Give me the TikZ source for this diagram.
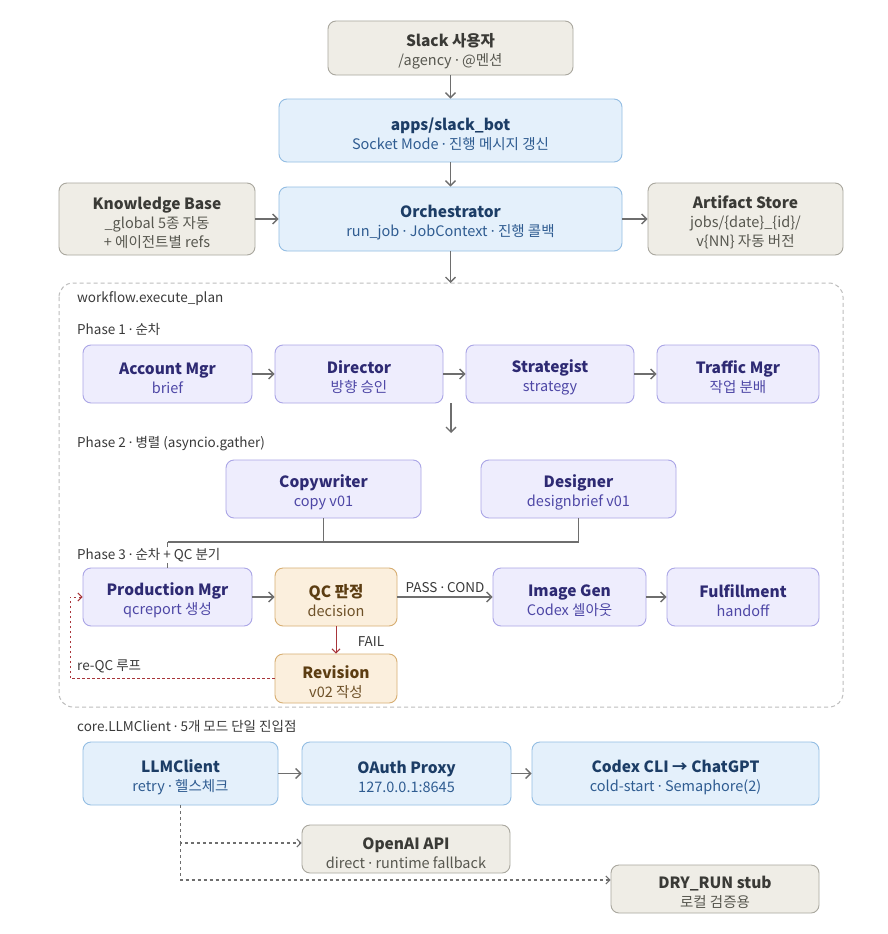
\documentclass[tikz,border=0pt]{standalone}
\usepackage{fontspec}
\setmainfont{Noto Sans CJK KR}
\newfontfamily\latinf{Noto Sans}
\usetikzlibrary{arrows.meta,calc}
\definecolor{gfill}{HTML}{EFEDE6}
\definecolor{gdraw}{HTML}{A9A79E}
\definecolor{gttl}{HTML}{3A3A36}
\definecolor{gsub}{HTML}{57574F}
\definecolor{bfill}{HTML}{E4F0FB}
\definecolor{bdraw}{HTML}{93BDE3}
\definecolor{bttl}{HTML}{1C3D66}
\definecolor{bsub}{HTML}{2F5C91}
\definecolor{pfill}{HTML}{EEEDFD}
\definecolor{pdraw}{HTML}{AAA5E6}
\definecolor{pttl}{HTML}{2E2A73}
\definecolor{psub}{HTML}{4E47A6}
\definecolor{ofill}{HTML}{FBEFDD}
\definecolor{odraw}{HTML}{D7AE72}
\definecolor{ottl}{HTML}{5C3D12}
\definecolor{osub}{HTML}{6E5128}
\definecolor{arr}{HTML}{6E6E6E}
\definecolor{redl}{HTML}{A8353A}
\definecolor{frame}{HTML}{BDBDBD}
\definecolor{lbl}{HTML}{3A3A3A}
\newcommand{\ttl}[1]{{\fontsize{15.5}{19}\selectfont\bfseries\rule{0pt}{20pt}#1}}
\newcommand{\md}{{\latinf ·}}
\tikzset{
  box/.style={rounded corners=8pt, line width=0.9pt, align=center, inner sep=2pt,
    font=\fontsize{14.5}{19}\selectfont},
  gbox/.style={box, fill=gfill, draw=gdraw, text=gsub},
  bbox/.style={box, fill=bfill, draw=bdraw, text=bsub},
  pbox/.style={box, fill=pfill, draw=pdraw, text=psub},
  obox/.style={box, fill=ofill, draw=odraw, text=osub},
  lab/.style={anchor=west, text=lbl, font=\fontsize{13.5}{16}\selectfont, inner sep=1pt},
  conn/.style={draw=arr, line width=1.4pt, -{Straight Barb[length=5pt,width=10pt,line width=1.3pt]}},
  plainl/.style={draw=arr, line width=1.4pt},
  dconn/.style={draw=arr, line width=1.1pt, dash pattern=on 3pt off 3pt, -{Straight Barb[length=4pt,width=8pt,line width=1pt]}},
  rconn/.style={draw=redl, line width=1pt, -{Straight Barb[length=4pt,width=8pt,line width=1pt]}},
  rdconn/.style={draw=redl, line width=1pt, dash pattern=on 2.5pt off 2.5pt, -{Straight Barb[length=4pt,width=8pt,line width=1pt]}},
}
\begin{document}
\begin{tikzpicture}[x=1pt,y=-1pt]
\useasboundingbox[fill=white] (0,0) rectangle (888,934);

% top
\node[gbox, minimum width=245, minimum height=54] (slack) at (450.5,48) {\textcolor{gttl}{\ttl{Slack 사용자}}\\/agency \md{} @멘션};
\node[bbox, minimum width=343, minimum height=63] (bot) at (450.5,130.5) {\textcolor{bttl}{\ttl{apps/slack\_bot}}\\Socket Mode \md{} 진행 메시지 갱신};
\node[gbox, minimum width=196, minimum height=72] (kb) at (157,219) {\textcolor{gttl}{\ttl{Knowledge Base}}\\\_global 5종 자동\\+ 에이전트별 refs};
\node[bbox, minimum width=343, minimum height=64] (orch) at (450.5,219) {\textcolor{bttl}{\ttl{Orchestrator}}\\run\_job \md{} JobContext \md{} 진행 콜백};
\node[gbox, minimum width=195, minimum height=72] (art) at (745.5,219) {\textcolor{gttl}{\ttl{Artifact Store}}\\jobs/\{date\}\_\{id\}/\\v\{NN\} 자동 버전};

\draw[conn] (slack) -- (bot);
\draw[conn] (bot) -- (orch);
\draw[conn] (kb) -- (orch);
\draw[conn] (orch) -- (art);

% frame
\draw[frame, line width=1pt, dash pattern=on 4pt off 3pt, rounded corners=14pt] (59,283) rectangle (843,707);
\coordinate (ftop) at (450.5,283);
\draw[conn] (orch.south) -- (ftop);

\node[lab] (wf) at (76,299) {workflow.execute\_plan};
\node[lab] (ph1) at (76,329) {Phase 1 \md{} 순차};

\node[pbox, minimum width=169, minimum height=58] (am) at (167.5,374) {\textcolor{pttl}{\ttl{Account Mgr}}\\brief};
\node[pbox, minimum width=168, minimum height=58] (dir) at (359,374) {\textcolor{pttl}{\ttl{Director}}\\방향 승인};
\node[pbox, minimum width=168, minimum height=58] (str) at (550,374) {\textcolor{pttl}{\ttl{Strategist}}\\strategy};
\node[pbox, minimum width=162, minimum height=58] (tm) at (738,374) {\textcolor{pttl}{\ttl{Traffic Mgr}}\\작업 분배};
\draw[conn] (am) -- (dir);
\draw[conn] (dir) -- (str);
\draw[conn] (str) -- (tm);
\coordinate (p1a) at (451,403);
\coordinate (p1b) at (451,433);
\draw[conn] (p1a) -- (p1b);

\node[lab] (ph2) at (76,444) {Phase 2 \md{} 병렬 (asyncio.gather)};
\node[pbox, minimum width=195, minimum height=58] (cw) at (323.5,489) {\textcolor{pttl}{\ttl{Copywriter}}\\copy v01};
\node[pbox, minimum width=195, minimum height=58] (des) at (578.5,489) {\textcolor{pttl}{\ttl{Designer}}\\designbrief v01};

% phase 3 boxes
\node[pbox, minimum width=169, minimum height=58] (pm) at (167.5,597) {\textcolor{pttl}{\ttl{Production Mgr}}\\qcreport 생성};
\node[obox, minimum width=122, minimum height=58] (qc) at (336,597) {\textcolor{ottl}{\ttl{QC 판정}}\\decision};
\node[pbox, minimum width=153, minimum height=58] (ig) at (569.5,597) {\textcolor{pttl}{\ttl{Image Gen}}\\Codex 셀아웃};
\node[pbox, minimum width=152, minimum height=58] (ff) at (743,597) {\textcolor{pttl}{\ttl{Fulfillment}}\\handoff};
\node[obox, minimum width=122, minimum height=49] (rev) at (336,678.5) {\textcolor{ottl}{\ttl{Revision}}\\v02 작성};

% merge
\coordinate (mg) at (167.5,542);
\draw[plainl] (cw.south) |- (mg);
\draw[plainl] (des.south) |- (mg);
\draw[plainl] (mg) -- (pm.north);
\node[lab, fill=white] (ph3) at (76,555) {Phase 3 \md{} 순차 + QC 분기};

\draw[conn] (pm) -- (qc);
\draw[conn] (qc) -- node[above, text=lbl, font=\fontsize{13.5}{16}\selectfont, inner sep=4pt] (pass) {PASS \md{} COND} (ig);
\draw[conn] (ig) -- (ff);
\draw[rconn] (qc) -- node[right, text=lbl, font=\fontsize{13.5}{16}\selectfont, pos=0.55, xshift=18pt] (fail) {FAIL} (rev);

\coordinate (lpa) at (70,678.5);
\coordinate (lpb) at (70,597);
\draw[rdconn] (rev.west) -- (lpa) -- (lpb) -- (pm.west);
\node[lab, fill=white] (reqc) at (76,666) {re-QC 루프};

% LLM client
\node[lab] (core) at (76,726) {core.LLMClient \md{} 5개 모드 단일 진입점};
\node[bbox, minimum width=195, minimum height=63] (llm) at (180.5,773.5) {\textcolor{bttl}{\ttl{LLMClient}}\\retry \md{} 헬스체크};
\node[bbox, minimum width=209, minimum height=63] (oauth) at (406.5,773.5) {\textcolor{bttl}{\ttl{OAuth Proxy}}\\127.0.0.1:8645};
\node[bbox, minimum width=287, minimum height=63] (codex) at (675.5,773.5) {\textcolor{bttl}{\ttl{Codex CLI → ChatGPT}}\\cold-start \md{} Semaphore(2)};
\node[gbox, minimum width=208, minimum height=48] (openai) at (406,849) {\textcolor{gttl}{\ttl{OpenAI API}}\\direct \md{} runtime fallback};
\node[gbox, minimum width=208, minimum height=48] (dry) at (715,889) {\textcolor{gttl}{\ttl{DRY\_RUN stub}}\\로컬 검증용};

\draw[conn] (llm) -- (oauth);
\draw[conn] (oauth) -- (codex);
\coordinate (lb1) at (180.5,843);
\coordinate (lb2) at (180.5,880);
\draw[dconn] (llm.south) -- (lb1) -- ([yshift=6pt]openai.west);
\draw[dconn] (lb1) -- (lb2) -- ([yshift=9pt]dry.west);
\end{tikzpicture}
\end{document}
